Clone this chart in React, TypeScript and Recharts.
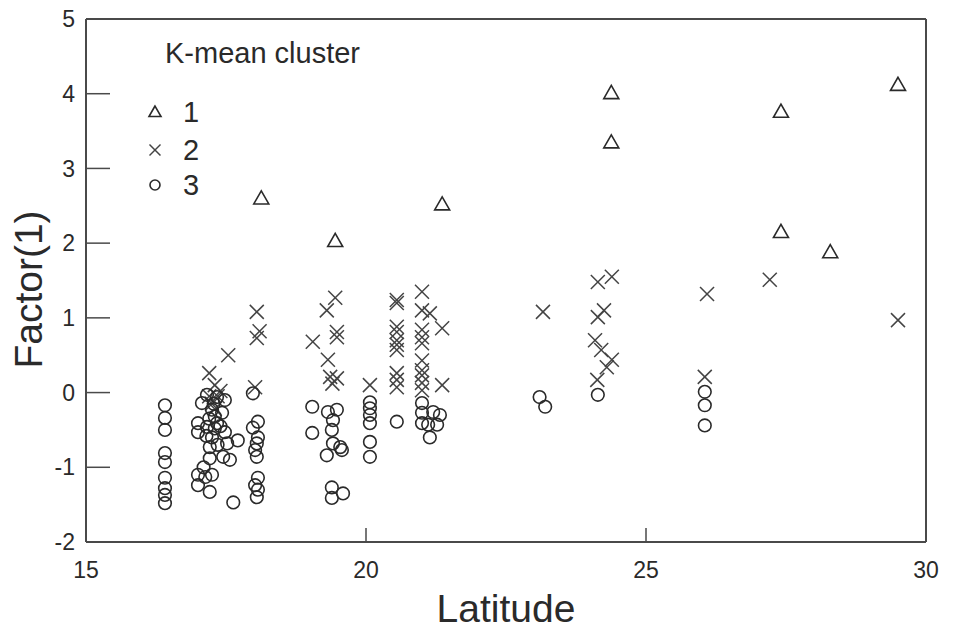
import { ScatterChart, Scatter, XAxis, YAxis, Legend } from 'recharts'

const FONT = '"Liberation Sans", Arial, sans-serif'
const INK = '#2a2a2a'
const FRAME = '#4a4a4a'

// [latitude, factor(1)]
const cluster1: [number, number][] = [
  [18.13, 2.6], [19.45, 2.03], [21.36, 2.52], [24.38, 4.01], [24.38, 3.35],
  [27.41, 3.76], [27.41, 2.15], [28.29, 1.88], [29.5, 4.12],
]

const cluster2: [number, number][] = [
  [17.2, 0.26], [17.54, 0.5], [17.3, 0.1], [17.35, -0.05], [17.25, -0.15], [17.4, 0.02],
  [17.3, -0.22], [17.2, -0.05],
  [18.02, 0.07], [18.05, 1.08], [18.1, 0.82], [18.05, 0.73],
  [19.45, 1.27], [19.3, 1.1], [19.48, 0.81], [19.48, 0.74], [19.05, 0.68], [19.32, 0.44],
  [19.36, 0.21], [19.48, 0.19], [19.4, 0.12],
  [20.07, 0.1],
  [20.55, 1.24], [20.55, 1.2], [20.55, 0.88], [20.55, 0.81], [20.55, 0.7], [20.55, 0.64],
  [20.55, 0.57], [20.55, 0.26], [20.55, 0.17], [20.55, 0.07],
  [21.0, 1.35], [21.0, 1.1], [21.0, 0.84], [21.0, 0.74], [21.0, 0.66], [21.0, 0.43],
  [21.0, 0.3], [21.0, 0.23], [21.0, 0.13], [21.0, 0.03],
  [21.14, 1.06], [21.36, 0.86], [21.36, 0.1],
  [23.16, 1.08],
  [24.14, 1.48], [24.39, 1.55], [24.14, 1.01], [24.25, 1.1], [24.09, 0.7], [24.2, 0.57],
  [24.39, 0.44], [24.3, 0.34], [24.13, 0.17],
  [26.09, 1.32], [26.05, 0.21], [27.21, 1.51], [29.5, 0.97],
]

const cluster3: [number, number][] = [
  [16.41, -0.17], [16.41, -0.34], [16.41, -0.5], [16.41, -0.81], [16.41, -0.93],
  [16.41, -1.14], [16.41, -1.28], [16.41, -1.37], [16.41, -1.48],
  [17.07, -0.14], [17.16, -0.03], [17.34, -0.06], [17.48, -0.1], [17.25, -0.23], [17.43, -0.27],
  [17.0, -0.41], [17.16, -0.46], [17.34, -0.41], [17.48, -0.53], [17.0, -0.53], [17.25, -0.6],
  [17.52, -0.68], [17.71, -0.64], [17.21, -0.73], [17.45, -0.86], [17.57, -0.9], [17.21, -0.88],
  [17.0, -1.1], [17.13, -1.13], [17.25, -1.1], [17.0, -1.24], [17.21, -1.33], [17.63, -1.47],
  [17.2, -0.35], [17.3, -0.48], [17.3, -0.32], [17.4, -0.45], [17.15, -0.58], [17.35, -0.7],
  [17.28, -0.15], [17.1, -1.0],
  [17.98, -0.01], [18.07, -0.39], [17.98, -0.47], [18.07, -0.6], [18.05, -0.68], [18.02, -0.77],
  [18.05, -0.86], [18.07, -1.14], [18.02, -1.24], [18.07, -1.3], [18.05, -1.4],
  [19.04, -0.19], [19.04, -0.54], [19.32, -0.26], [19.48, -0.23], [19.41, -0.37], [19.39, -0.5],
  [19.41, -0.68], [19.54, -0.73], [19.3, -0.84], [19.57, -0.77], [19.39, -1.27], [19.59, -1.35],
  [19.39, -1.41],
  [20.07, -0.13], [20.07, -0.21], [20.07, -0.3], [20.07, -0.41], [20.07, -0.66], [20.07, -0.86],
  [20.55, -0.39],
  [21.0, -0.14], [21.0, -0.27], [21.0, -0.41], [21.2, -0.26], [21.32, -0.3], [21.11, -0.43],
  [21.27, -0.43], [21.14, -0.6],
  [23.1, -0.06], [23.2, -0.19],
  [24.14, -0.03],
  [26.05, 0.01], [26.05, -0.17], [26.05, -0.44],
]

const xTicks = [15, 20, 25, 30]
const yTicks = [-2, -1, 0, 1, 2, 3, 4, 5]
const clusterNames = ['1', '2', '3']

const toRows = (pts: [number, number][]) => pts.map(([lat, f]) => ({ lat, f }))

function triangle(cx: number, cy: number, s: number, w = 1.6) {
  return (
    <polygon
      points={`${cx},${cy - s} ${cx - s},${cy + s * 0.75} ${cx + s},${cy + s * 0.75}`}
      fill="none"
      stroke={INK}
      strokeWidth={w}
    />
  )
}

function cross(cx: number, cy: number, s: number) {
  return (
    <g stroke="#444" strokeWidth={1.5}>
      <line x1={cx - s} y1={cy - s} x2={cx + s} y2={cy + s} />
      <line x1={cx - s} y1={cy + s} x2={cx + s} y2={cy - s} />
    </g>
  )
}

function ring(cx: number, cy: number, r: number) {
  return <circle cx={cx} cy={cy} r={r} fill="none" stroke={INK} strokeWidth={1.6} />
}

const markers = [
  (cx: number, cy: number, big = true) => triangle(cx, cy, big ? 7.5 : 6),
  (cx: number, cy: number, big = true) => cross(cx, cy, big ? 7 : 5.5),
  (cx: number, cy: number, big = true) => ring(cx, cy, big ? 6.3 : 5),
]

function ClusterLegend() {
  return (
    <svg width={260} height={190} style={{ display: 'block', fontFamily: FONT }}>
      <text x={25} y={43} fontSize={29} fill={INK}>K-mean cluster</text>
      {clusterNames.map((name, i) => {
        const cy = [92, 130, 165][i]
        return (
          <g key={name}>
            {markers[i](15, cy, false)}
            <text x={43} y={cy + 10} fontSize={29} fill={INK}>{name}</text>
          </g>
        )
      })}
    </svg>
  )
}

const tickStyle = { fill: INK, fontSize: 23, fontFamily: FONT }

export default function App() {
  const series = [cluster1, cluster2, cluster3].map(toRows)
  return (
    <div style={{ position: 'absolute', left: 0, top: 0, background: '#fff' }}>
      <ScatterChart width={953} height={629} margin={{ top: 18, right: 26, bottom: 0, left: 0 }}>
        <XAxis
          dataKey="lat"
          type="number"
          domain={[15, 30]}
          ticks={xTicks}
          interval={0}
          allowDataOverflow
          height={87}
          stroke={FRAME}
          strokeWidth={2}
          tickSize={-14}
          tickMargin={34}
          tickLine={{ stroke: FRAME, strokeWidth: 1.5 }}
          tick={tickStyle}
          label={{
            content: ({ viewBox }: any) => (
              <text
                x={viewBox.x + viewBox.width / 2}
                y={622}
                textAnchor="middle"
                fontSize={39}
                fontFamily={FONT}
                fill={INK}
              >
                Latitude
              </text>
            ),
          }}
        />
        <XAxis
          xAxisId="top"
          orientation="top"
          type="number"
          domain={[15, 30]}
          ticks={xTicks}
          interval={0}
          allowDataOverflow
          height={1}
          stroke={FRAME}
          strokeWidth={2}
          tickSize={-14}
          tickLine={{ stroke: FRAME, strokeWidth: 1.5 }}
          tick={false}
        />
        <YAxis
          dataKey="f"
          type="number"
          domain={[-2, 5]}
          ticks={yTicks}
          interval={0}
          allowDataOverflow
          width={86}
          stroke={FRAME}
          strokeWidth={2}
          tickSize={-24}
          tickMargin={35}
          tickLine={{ stroke: FRAME, strokeWidth: 1.5 }}
          tick={tickStyle}
          label={{
            content: ({ viewBox }: any) => {
              const cy = viewBox.y + viewBox.height / 2 + 9
              return (
                <text
                  x={42}
                  y={cy}
                  transform={`rotate(-90 42 ${cy})`}
                  textAnchor="middle"
                  fontSize={39}
                  fontFamily={FONT}
                  fill={INK}
                >
                  Factor(1)
                </text>
              )
            },
          }}
        />
        <YAxis
          yAxisId="right"
          orientation="right"
          type="number"
          domain={[-2, 5]}
          ticks={yTicks}
          interval={0}
          allowDataOverflow
          width={1}
          stroke={FRAME}
          strokeWidth={2}
          tickSize={-24}
          tickLine={{ stroke: FRAME, strokeWidth: 1.5 }}
          tick={false}
        />
        <Legend
          layout="vertical"
          align="center"
          verticalAlign="middle"
          wrapperStyle={{ left: 140, top: 20, width: 260, height: 190 }}
          content={() => <ClusterLegend />}
        />
        {series.map((rows, i) => (
          <Scatter
            key={clusterNames[i]}
            name={clusterNames[i]}
            data={rows}
            isAnimationActive={false}
            shape={(p: any) => markers[i](p.cx, p.cy)}
          />
        ))}
      </ScatterChart>
    </div>
  )
}
